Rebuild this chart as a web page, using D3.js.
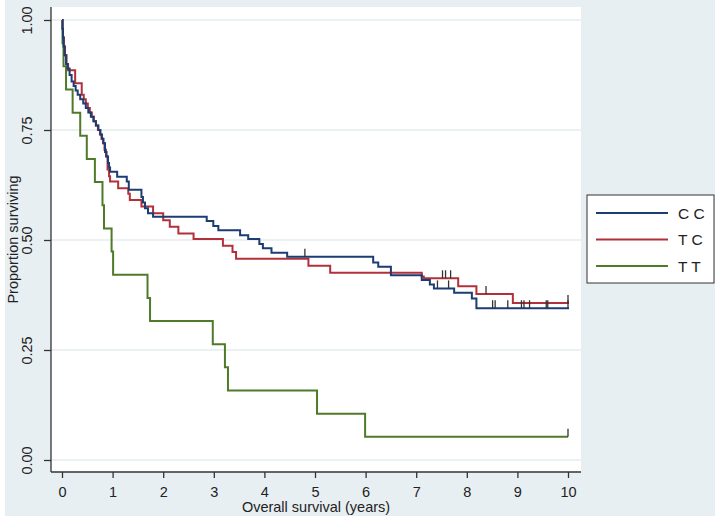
<!DOCTYPE html>
<html lang="en">
<head>
<meta charset="UTF-8">
<title>Overall survival by genotype</title>
<script src="https://d3js.org/d3.v7.min.js"></script>
<style>
    body { margin: 0; background: #fff; }
    text { font-family: "Liberation Sans", Arial, sans-serif; fill: #222; }
</style>
</head>
<body>
<div id="chart"></div>
<script>
    // Kaplan-Meier steps: time (years) of each drop, survival after it
    var ccTimes = [0.01, 0.02, 0.03, 0.05, 0.08, 0.11, 0.15, 0.19, 0.23, 0.27, 0.31, 0.36, 0.42, 0.47, 0.52, 0.57, 0.62, 0.67, 0.72, 0.76, 0.79, 0.82, 0.85, 0.88, 0.91, 0.93, 0.95, 1.09, 1.28, 1.32, 1.57, 1.60, 1.64, 1.70, 1.80, 2.86, 2.99, 3.09, 3.52, 3.68, 3.90, 3.97, 4.14, 4.45, 6.15, 6.25, 6.50, 7.11, 7.27, 7.35, 7.75, 8.10, 8.19];
    var ccSurv  = [0.98, 0.96, 0.94, 0.92, 0.90, 0.89, 0.875, 0.86, 0.85, 0.84, 0.83, 0.82, 0.81, 0.80, 0.79, 0.78, 0.77, 0.76, 0.75, 0.74, 0.73, 0.72, 0.70, 0.69, 0.675, 0.665, 0.655, 0.644, 0.633, 0.614, 0.598, 0.585, 0.572, 0.561, 0.553, 0.543, 0.532, 0.522, 0.511, 0.502, 0.491, 0.481, 0.471, 0.462, 0.449, 0.439, 0.420, 0.409, 0.399, 0.390, 0.380, 0.367, 0.345];
    var ccCens  = [4.80, 7.42, 7.64, 8.51, 8.56, 8.81, 9.08, 9.13, 9.24, 9.57, 9.60, 10.0];
    var ccEnd   = 10.02;

    var tcTimes = [0.01, 0.02, 0.04, 0.06, 0.09, 0.12, 0.26, 0.39, 0.43, 0.47, 0.51, 0.55, 0.59, 0.63, 0.67, 0.71, 0.75, 0.78, 0.81, 0.84, 0.87, 0.90, 0.93, 0.95, 1.11, 1.31, 1.34, 1.57, 1.80, 2.00, 2.13, 2.30, 2.60, 3.18, 3.37, 3.44, 4.87, 5.30, 7.11, 7.15, 7.83, 8.19, 8.91];
    var tcSurv  = [0.98, 0.96, 0.94, 0.92, 0.90, 0.886, 0.856, 0.83, 0.82, 0.81, 0.80, 0.79, 0.78, 0.77, 0.76, 0.75, 0.74, 0.73, 0.72, 0.705, 0.69, 0.66, 0.645, 0.633, 0.6175, 0.605, 0.591, 0.576, 0.561, 0.545, 0.530, 0.515, 0.502, 0.487, 0.473, 0.4575, 0.4416, 0.4257, 0.417, 0.413, 0.395, 0.377, 0.357];
    var tcCens  = [7.52, 7.58, 7.68, 8.38, 10.0];
    var tcEnd   = 10.02;

    var ttTimes = [0.01, 0.03, 0.08, 0.21, 0.36, 0.49, 0.65, 0.80, 0.83, 0.98, 1.01, 1.69, 1.74, 2.98, 3.22, 3.28, 5.04, 5.99];
    var ttSurv  = [0.947, 0.895, 0.842, 0.789, 0.737, 0.684, 0.632, 0.579, 0.526, 0.474, 0.421, 0.368, 0.316, 0.263, 0.211, 0.158, 0.105, 0.053];
    var ttCens  = [10.0];
    var ttEnd   = 10.0;

    var groups  = ["C C", "T C", "T T"];
    var colors  = ["#1c3c72", "#b2303a", "#4f7a2a"];
    var xTicks  = [0, 1, 2, 3, 4, 5, 6, 7, 8, 9, 10];
    var yTicks  = [0, 0.25, 0.5, 0.75, 1];

    var W = 720, H = 521;
    var plot = {left: 51, right: 581, top: 7, bottom: 472};

    var svg = d3.select("#chart").append("svg")
        .attr("width", W)
        .attr("height", H);

    // outer graph region
    svg.append("rect")
        .attr("x", 5).attr("y", 0)
        .attr("width", 710).attr("height", 516)
        .attr("fill", "#e8eff2");

    svg.append("rect")
        .attr("x", plot.left).attr("y", plot.top)
        .attr("width", plot.right - plot.left).attr("height", plot.bottom - plot.top)
        .attr("fill", "#fff");

    var x = d3.scaleLinear().domain([0, 10]).range([62, 568]);
    var y = d3.scaleLinear().domain([0, 1]).range([460, 20]);

    // grid
    svg.append("g").selectAll("line")
        .data(yTicks)
        .enter().append("line")
        .attr("x1", plot.left).attr("x2", plot.right)
        .attr("y1", function(d) { return y(d); })
        .attr("y2", function(d) { return y(d); })
        .attr("stroke", "#e4ecef")
        .attr("stroke-width", 1.5);

    // axes
    var yAxis = svg.append("g")
        .attr("transform", "translate(" + plot.left + ",0)")
        .call(d3.axisLeft(y).tickValues(yTicks).tickSize(7).tickFormat(d3.format(".2f")));
    yAxis.select(".domain").attr("d", "M0," + plot.top + "V" + plot.bottom);
    yAxis.selectAll("text")
        .attr("transform", "rotate(-90)")
        .attr("x", 0).attr("y", -19)
        .attr("dy", 0)
        .attr("text-anchor", "middle")
        .style("font-size", "14.5px");

    var xAxis = svg.append("g")
        .attr("transform", "translate(0," + plot.bottom + ")")
        .call(d3.axisBottom(x).tickValues(xTicks).tickSize(6));
    xAxis.select(".domain").attr("d", "M" + plot.left + ",0H" + plot.right);
    xAxis.selectAll("text")
        .attr("y", 25).attr("dy", 0)
        .style("font-size", "14.5px");

    svg.selectAll(".domain, .tick line")
        .attr("stroke", "#333")
        .attr("stroke-width", 1.3);
    svg.selectAll(".tick text").style("fill", "#222").style("font-family", "Liberation Sans, Arial, sans-serif");

    svg.append("text")
        .attr("x", (plot.left + plot.right) / 2)
        .attr("y", 512)
        .attr("text-anchor", "middle")
        .style("font-size", "14.5px")
        .text("Overall survival (years)");

    svg.append("text")
        .attr("transform", "translate(18," + ((plot.top + plot.bottom) / 2) + ") rotate(-90)")
        .attr("text-anchor", "middle")
        .style("font-size", "14.5px")
        .text("Proportion surviving");

    // curves
    var series = [
        {times: ccTimes, surv: ccSurv, cens: ccCens, end: ccEnd},
        {times: tcTimes, surv: tcSurv, cens: tcCens, end: tcEnd},
        {times: ttTimes, surv: ttSurv, cens: ttCens, end: ttEnd}
    ];

    var line = d3.line()
        .x(function(d) { return x(d[0]); })
        .y(function(d) { return y(d[1]); })
        .curve(d3.curveStepAfter);

    function survAt(s, t) {
        var i = d3.bisectRight(s.times, t);
        return i === 0 ? 1 : s.surv[i - 1];
    }

    // draw green first so blue/red sit on top like the original
    [2, 1, 0].forEach(function(k) {
        var s = series[k];
        var pts = [[0, 1]];
        s.times.forEach(function(t, i) { pts.push([t, s.surv[i]]); });
        pts.push([s.end, s.surv[s.surv.length - 1]]);

        svg.append("path")
            .attr("d", line(pts))
            .attr("fill", "none")
            .attr("stroke", colors[k])
            .attr("stroke-width", 2);
    });

    [2, 1, 0].forEach(function(k) {
        var s = series[k];
        svg.append("g").selectAll("line")
            .data(s.cens)
            .enter().append("line")
            .attr("x1", function(d) { return x(d); })
            .attr("x2", function(d) { return x(d); })
            .attr("y1", function(d) { return y(survAt(s, d)); })
            .attr("y2", function(d) { return y(survAt(s, d)) - 8; })
            .attr("stroke", "#333")
            .attr("stroke-width", 1.3);
    });

    // legend
    var lg = svg.append("g");
    lg.append("rect")
        .attr("x", 587).attr("y", 195)
        .attr("width", 127).attr("height", 88)
        .attr("fill", "#fff")
        .attr("stroke", "#333")
        .attr("stroke-width", 1);

    var item = lg.selectAll("g.item")
        .data(groups)
        .enter().append("g")
        .attr("class", "item")
        .attr("transform", function(d, i) { return "translate(0," + (213 + i * 26.5) + ")"; });
    item.append("line")
        .attr("x1", 596).attr("x2", 668)
        .attr("stroke", function(d, i) { return colors[i]; })
        .attr("stroke-width", 2);
    item.append("text")
        .attr("x", 678)
        .attr("dy", "0.36em")
        .style("font-size", "15.5px")
        .text(function(d) { return d; });
</script>
</body>
</html>
